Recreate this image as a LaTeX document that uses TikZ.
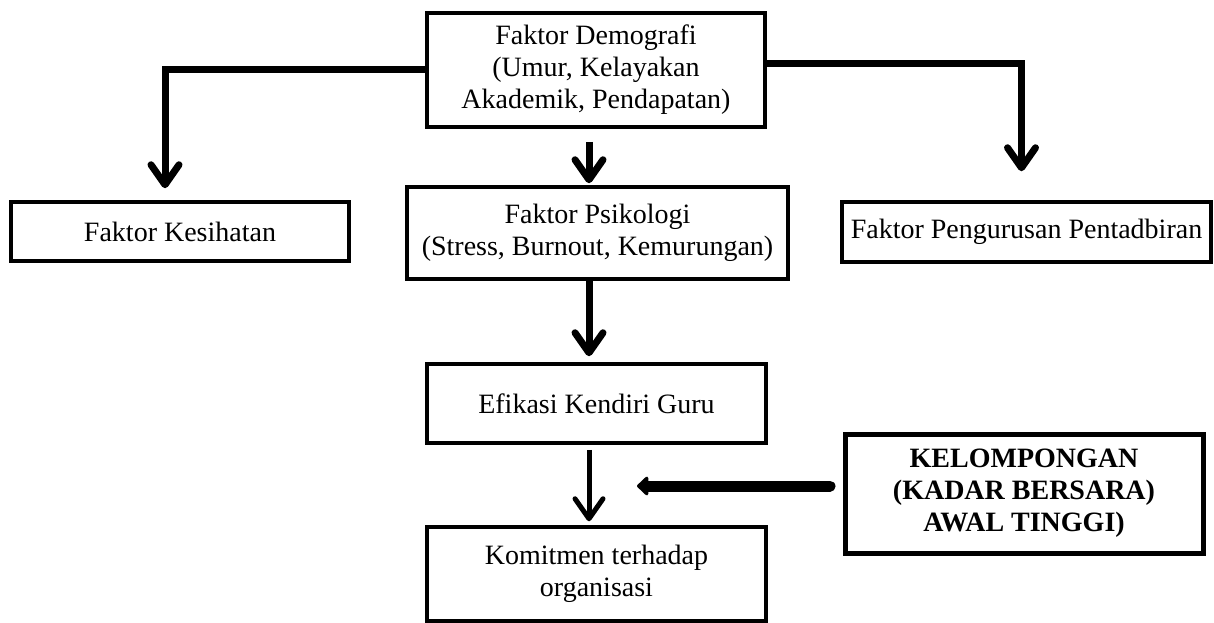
\documentclass[tikz,border=0pt]{standalone}
\usepackage{fontspec}
\setmainfont{Liberation Serif}
\usetikzlibrary{arrows.meta}

\begin{document}
\begin{tikzpicture}[x=1pt,y=1pt]
		\tikzstyle{every node}=[align=center, draw=black, line width=3.5pt, inner sep=0pt, font=\fontsize{28}{32}\selectfont];
		\tikzstyle{link}=[line width=7pt, -{Straight Barb[length=20pt,width=28pt,round]}];
		\useasboundingbox (0,0) rectangle (1214,-623);
		\node[minimum width=338pt, minimum height=114pt] (demografi) at (596,-70) {Faktor Demografi\\(Umur, Kelayakan\\Akademik, Pendapatan)};
		\node[minimum width=338pt, minimum height=59pt] (kesihatan) at (180,-231.5) {Faktor Kesihatan};
		\node[minimum width=381pt, minimum height=92pt] (psikologi) at (597.5,-233) {Faktor Psikologi\\(Stress, Burnout, Kemurungan)};
		\node[minimum width=369pt, minimum height=60pt] (pengurusan) at (1026.5,-232) {Faktor Pengurusan Pentadbiran};
		\node[minimum width=339pt, minimum height=79pt] (efikasi) at (596.5,-403.5) {Efikasi Kendiri Guru};
		\node[minimum width=339pt, minimum height=94pt] (komitmen) at (596.5,-574) {Komitmen terhadap\\organisasi};
		\node[minimum width=358pt, minimum height=119pt, line width=5pt, font=\fontsize{28}{32}\selectfont\bfseries] (kelompongan) at (1024,-493.5) {KELOMPONGAN\\(KADAR BERSARA)\\AWAL TINGGI)};
		\coordinate (spine) at (589,0);
		\coordinate (celah) at (637,-486);
		% cabang ke kiri dan kanan
		\draw[link, shorten >=12pt] (demografi.west) -| ([xshift=-15pt]kesihatan.north);
		\draw[link, shorten >=29pt] ([yshift=6pt]demografi.east) -| ([xshift=-5pt]pengurusan.north);
		% aliran tengah
		\draw[link, shorten <=13pt, shorten >=2pt] (spine |- demografi.south) -- (spine |- psikologi.north);
		\draw[link, shorten >=6pt] (spine |- psikologi.south) -- (spine |- efikasi.north);
		\draw[link, line width=5pt, shorten <=5pt, shorten >=4pt] (spine |- efikasi.south) -- (spine |- komitmen.north);
		\draw[line width=11pt, line cap=round, -{Triangle[length=12pt,width=22pt,round]}, shorten <=12.5pt] ([yshift=7.5pt]kelompongan.west) -- (celah);
		\end{tikzpicture}
\end{document}
